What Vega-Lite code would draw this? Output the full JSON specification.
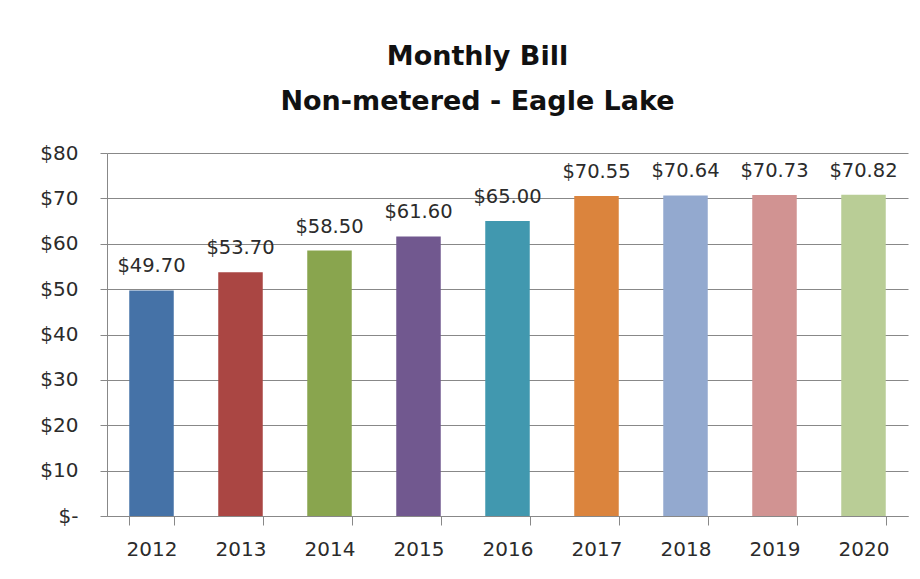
{
  "$schema": "https://vega.github.io/schema/vega-lite/v6.json",
  "width": 801,
  "height": 363,
  "autosize": {"type": "none"},
  "padding": {"left": 107, "top": 153, "right": 12, "bottom": 63},
  "background": "#ffffff",
  "title": {
    "text": ["Monthly Bill", "Non-metered - Eagle Lake"],
    "font": "DejaVu Sans",
    "fontSize": 27,
    "fontWeight": "bold",
    "color": "#111111",
    "lineHeight": 45,
    "anchor": "middle",
    "dx": -30,
    "offset": 27
  },
  "data": {
    "values": [
      {"year": "2012", "bill": 49.70, "label": "$49.70"},
      {"year": "2013", "bill": 53.70, "label": "$53.70"},
      {"year": "2014", "bill": 58.50, "label": "$58.50"},
      {"year": "2015", "bill": 61.60, "label": "$61.60"},
      {"year": "2016", "bill": 65.00, "label": "$65.00"},
      {"year": "2017", "bill": 70.55, "label": "$70.55"},
      {"year": "2018", "bill": 70.64, "label": "$70.64"},
      {"year": "2019", "bill": 70.73, "label": "$70.73"},
      {"year": "2020", "bill": 70.82, "label": "$70.82"}
    ]
  },
  "encoding": {
    "x": {
      "field": "year",
      "type": "nominal",
      "sort": null,
      "scale": {"paddingInner": 0.5, "paddingOuter": 0.25},
      "axis": {
        "title": null,
        "labelAngle": 0,
        "labelFont": "DejaVu Sans",
        "labelFontSize": 20,
        "labelColor": "#2b2b2b",
        "labelPadding": 14,
        "domainColor": "#888888",
        "tickColor": "#888888",
        "tickSize": 9,
        "tickBand": "extent",
        "grid": false
      }
    },
    "y": {
      "field": "bill",
      "type": "quantitative",
      "scale": {"domain": [0, 80], "nice": false},
      "axis": {
        "title": null,
        "values": [0, 10, 20, 30, 40, 50, 60, 70, 80],
        "labelExpr": "datum.value == 0 ? '$-' : '$' + datum.value",
        "labelFont": "DejaVu Sans",
        "labelFontSize": 20,
        "labelColor": "#2b2b2b",
        "labelPadding": 22,
        "domainColor": "#888888",
        "tickColor": "#888888",
        "tickSize": 7,
        "grid": true,
        "gridColor": "#888888"
      }
    }
  },
  "layer": [
    {
      "mark": {"type": "bar"},
      "encoding": {
        "color": {
          "field": "year",
          "type": "nominal",
          "sort": null,
          "legend": null,
          "scale": {
            "range": ["#4572A7", "#AA4643", "#89A54E", "#71588F", "#4198AF", "#DB843D", "#93A9CF", "#D19392", "#B9CD96"]
          }
        }
      }
    },
    {
      "mark": {"type": "text", "baseline": "alphabetic", "dy": -18, "font": "DejaVu Sans", "fontSize": 19.5, "color": "#2b2b2b"},
      "encoding": {"text": {"field": "label"}}
    }
  ],
  "config": {"view": {"stroke": null}}
}
